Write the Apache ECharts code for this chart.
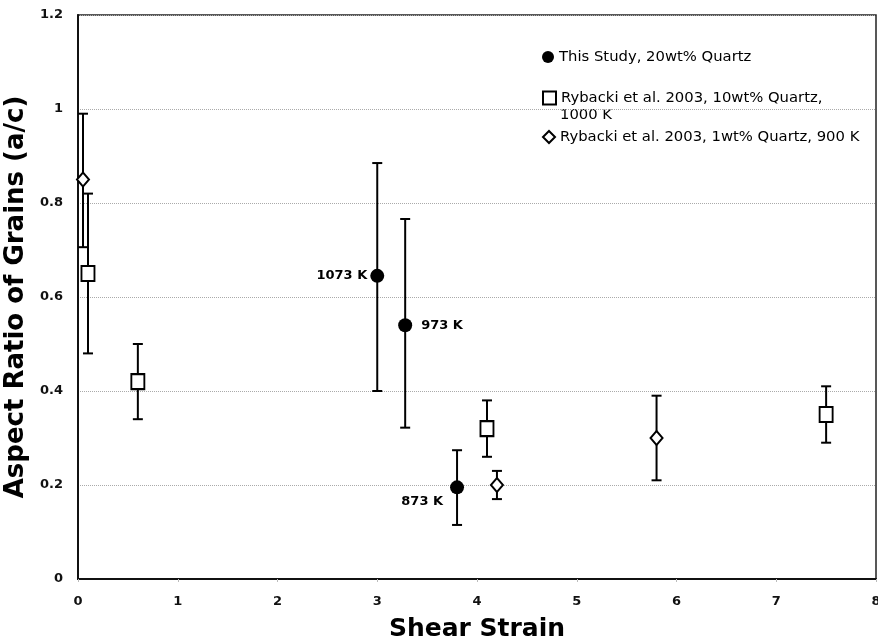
<!DOCTYPE html>
<html><head><meta charset="utf-8">
<script src="https://cdn.jsdelivr.net/npm/echarts@6/dist/echarts.min.js"></script>
<style>html,body{margin:0;padding:0;background:#fff}#c{width:878px;height:642px}</style>
</head><body><div id="c"></div>
<script>
// This Study, 20wt% Quartz
const studyX = [3.0, 3.28, 3.8];
const studyY = [0.645, 0.54, 0.195];
const studyLow = [0.40, 0.322, 0.115];
const studyHigh = [0.885, 0.766, 0.274];
const studyLabels = ['1073 K', '973 K', '873 K'];
// Rybacki et al. 2003, 10wt% Quartz, 1000 K
const ryb10X = [0.1, 0.6, 4.1, 7.5];
const ryb10Y = [0.65, 0.42, 0.32, 0.35];
const ryb10Low = [0.48, 0.34, 0.26, 0.29];
const ryb10High = [0.82, 0.50, 0.38, 0.41];
// Rybacki et al. 2003, 1wt% Quartz, 900 K
const ryb1X = [0.05, 4.2, 5.8];
const ryb1Y = [0.85, 0.20, 0.30];
const ryb1Low = [0.706, 0.17, 0.21];
const ryb1High = [0.99, 0.23, 0.39];

const xTicks = [0,1,2,3,4,5,6,7,8];
const yTicks = [0,0.2,0.4,0.6,0.8,1,1.2];

const nameStudy = 'This Study, 20wt% Quartz';
const name10 = 'Rybacki et al. 2003, 10wt% Quartz, 1000 K';
const name10Line1 = 'Rybacki et al. 2003, 10wt% Quartz,';
const name10Line2 = '1000 K';
const name1 = 'Rybacki et al. 2003, 1wt% Quartz, 900 K';

function pts(xs, ys){ return xs.map((x,i)=>[x, ys[i]]); }
function errs(xs, lo, hi){ return xs.map((x,i)=>[x, lo[i], hi[i]]); }

function errRender(params, api){
  const x = api.value(0), lo = api.value(1), hi = api.value(2);
  const pLo = api.coord([x, lo]), pHi = api.coord([x, hi]);
  const w = 5;
  const st = {stroke:'#000', lineWidth:2};
  return {type:'group', children:[
    {type:'line', shape:{x1:pLo[0],y1:pLo[1],x2:pHi[0],y2:pHi[1]}, style:st},
    {type:'line', shape:{x1:pLo[0]-w,y1:pLo[1],x2:pLo[0]+w,y2:pLo[1]}, style:st},
    {type:'line', shape:{x1:pHi[0]-w,y1:pHi[1],x2:pHi[0]+w,y2:pHi[1]}, style:st}
  ]};
}

const font = 'DejaVu Sans';
const chart = echarts.init(document.getElementById('c'));
const labelPos = ['left','right','left'];
const labelOffset = [[0,0],[6,0],[-4,14]];
const studyData = studyX.map((x,i)=>({value:[x, studyY[i]], label:{show:true, formatter:studyLabels[i], position:labelPos[i], offset:labelOffset[i], distance:3, color:'#000', opacity:1, fontFamily:font, fontWeight:'bold', fontSize:13}}));

const legText = {fontFamily:font, fontSize:14.8, color:'#000', lineHeight:16};
chart.setOption({
  animation:false,
  backgroundColor:'#fff',
  grid:{left:78, right:2, top:15, bottom:63, outerBoundsMode:'none', containLabel:false, show:true, borderColor:'#222', borderWidth:1.5},
  legend:[
    {data:[nameStudy], left:542, top:49, padding:0, itemWidth:12, itemHeight:12, textStyle:legText},
    {data:[name10], left:542, top:90, padding:0, itemWidth:13, itemHeight:13, textStyle:legText, formatter:()=>name10Line1},
    {data:[name1], left:542, top:129, padding:0, itemWidth:12, itemHeight:12, textStyle:legText}
  ],
  graphic:[
    {type:'text', left:560, top:108, style:{text:name10Line2, fontFamily:font, fontSize:14.8, fill:'#000'}}
  ],
  xAxis:{type:'value', min:0, max:8, interval:1,
    name:'Shear Strain', nameLocation:'middle', nameGap:38,
    nameTextStyle:{fontFamily:font, fontWeight:'bold', fontSize:25, color:'#000'},
    axisLine:{lineStyle:{color:'#111', width:2}},
    axisTick:{show:true, length:3, lineStyle:{color:'#bbb'}},
    axisLabel:{fontFamily:font, fontWeight:'bold', fontSize:13, color:'#111', margin:16, formatter:v=>xTicks.includes(v)?String(v):''},
    splitLine:{show:false}},
  yAxis:{type:'value', min:0, max:1.2, interval:0.2,
    name:'Aspect Ratio of Grains (a/c)', nameLocation:'middle', nameGap:39,
    nameTextStyle:{fontFamily:font, fontWeight:'bold', fontSize:26, color:'#000'},
    axisLine:{lineStyle:{color:'#111', width:2}},
    axisTick:{show:false},
    axisLabel:{fontFamily:font, fontWeight:'bold', fontSize:13, color:'#111', margin:15, formatter:v=>{const t=yTicks.find(k=>Math.abs(k-v)<1e-9); return t===undefined?'':String(+t.toFixed(1));}},
    splitLine:{show:true, lineStyle:{color:'#aaa', type:'dotted', width:1}}},
  series:[
    {type:'custom', name:'errStudy', renderItem:errRender, data:errs(studyX, studyLow, studyHigh), z:2, encode:{x:0,y:[1,2]}, silent:true},
    {type:'custom', name:'err10', renderItem:errRender, data:errs(ryb10X, ryb10Low, ryb10High), z:2, encode:{x:0,y:[1,2]}, silent:true},
    {type:'custom', name:'err1', renderItem:errRender, data:errs(ryb1X, ryb1Low, ryb1High), z:2, encode:{x:0,y:[1,2]}, silent:true},
    {type:'scatter', name:nameStudy, data:studyData, symbol:'circle', symbolSize:14, itemStyle:{color:'#000', opacity:1}, z:5},
    {type:'scatter', name:name10, data:pts(ryb10X, ryb10Y), symbol:'rect', symbolSize:[13,15], itemStyle:{color:'#fff', borderColor:'#000', borderWidth:2, opacity:1}, z:5},
    {type:'scatter', name:name1, data:pts(ryb1X, ryb1Y), symbol:'diamond', symbolSize:[12,14], itemStyle:{color:'#fff', borderColor:'#000', borderWidth:2, opacity:1}, z:5}
  ]
});
</script></body></html>
